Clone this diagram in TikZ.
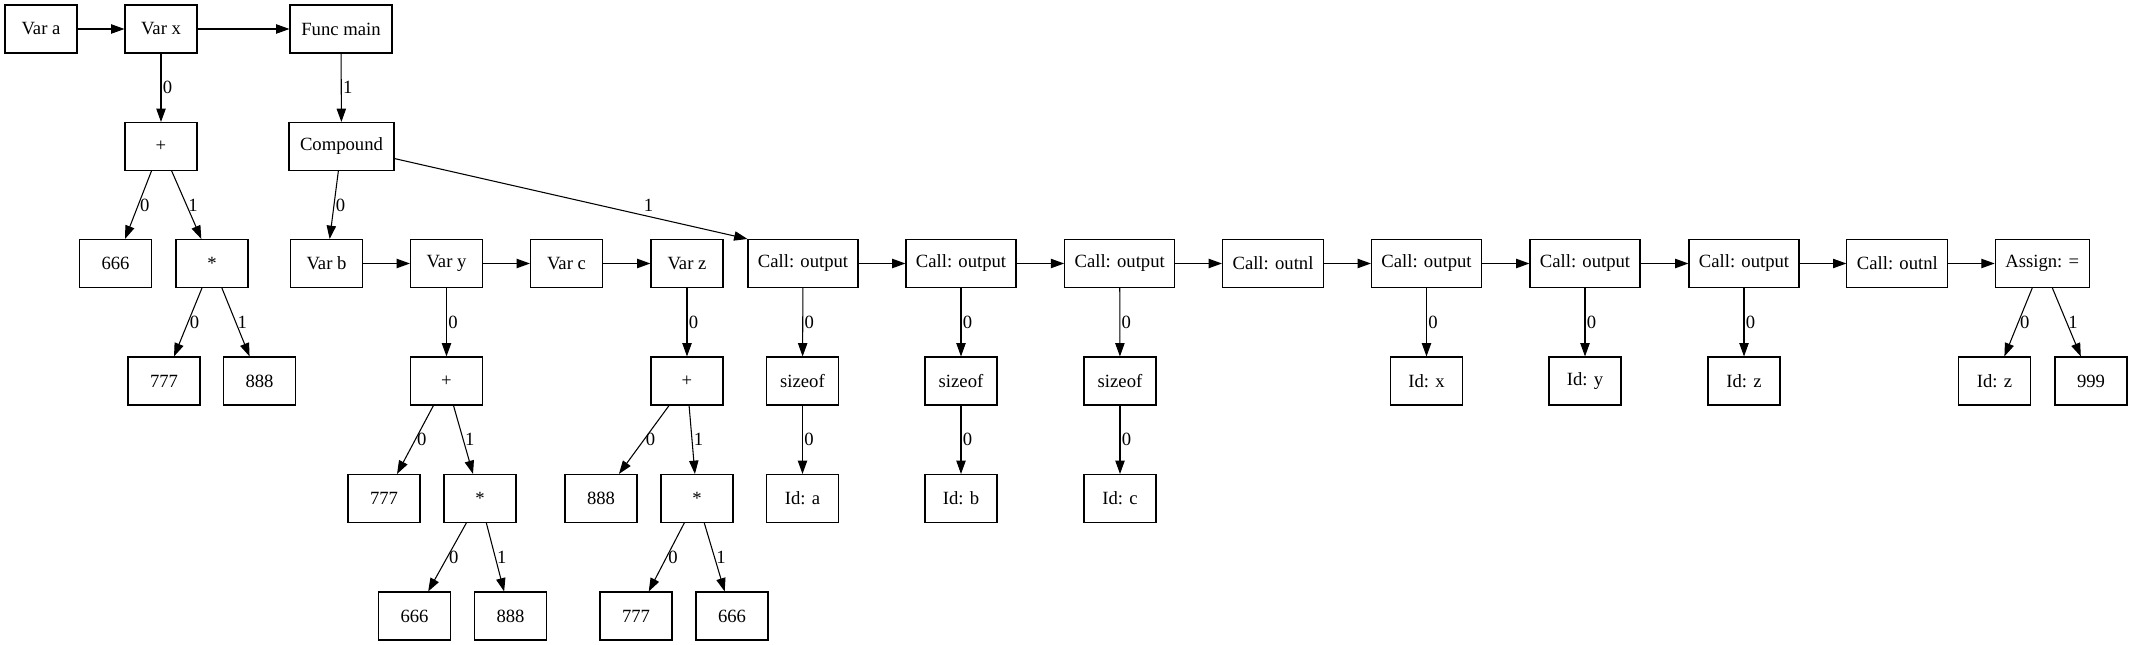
\documentclass[tikz,border=0pt]{standalone}
\usepackage{fontspec}
\setmainfont{Liberation Serif}
\usetikzlibrary{arrows.meta}

\begin{document}
\begin{tikzpicture}[x=0.75pt, y=-0.75pt, font=\fontsize{14}{16}\selectfont,
    box/.style={draw, line width=0.8pt, minimum width=54pt, minimum height=36pt, inner sep=0pt},
    wbox/.style={box, minimum width=#1},
    edge/.style={line width=0.8pt, -{Triangle[length=10pt, width=7pt]}},
    lbl/.style={right, inner sep=1pt}]
  \useasboundingbox (0,0) rectangle (2132,645);
  % row 1
  \node[box] (va) at (41,29) {Var a};
  \node[box] (vx) at (161,29) {Var x};
  \node[wbox=76.5pt] (fmain) at (341,29) {Func main};
  % row 2
  \node[box] (plusx) at (161,146.5) {+};
  \node[wbox=78.75pt] (cmp) at (341.5,146.5) {Compound};
  % row 3
  \node[box] (n666a) at (115.5,263.5) {666};
  \node[box] (mulx) at (212,263.5) {*};
  \node[box] (vb) at (326.5,263.5) {Var b};
  \node[box] (vy) at (446.5,263.5) {Var y};
  \node[box] (vc) at (566.5,263.5) {Var c};
  \node[box] (vz) at (687,263.5) {Var z};
  \node[wbox=82.5pt] (co1) at (803,263.5) {Call: output};
  \node[wbox=82.5pt] (co2) at (961,263.5) {Call: output};
  \node[wbox=82.5pt] (co3) at (1119.7,263.5) {Call: output};
  \node[wbox=75.75pt] (onl1) at (1273,263.5) {Call: outnl};
  \node[wbox=82.5pt] (co4) at (1426.5,263.5) {Call: output};
  \node[wbox=82.5pt] (co5) at (1585,263.5) {Call: output};
  \node[wbox=82.5pt] (co6) at (1744,263.5) {Call: output};
  \node[wbox=75.75pt] (onl2) at (1897.4,263.5) {Call: outnl};
  \node[wbox=70.5pt] (asg) at (2042.2,263.5) {Assign: =};
  % row 4
  \node[box] (n777a) at (164,381) {777};
  \node[box] (n888a) at (259.5,381) {888};
  \node[box] (plusy) at (446.5,381) {+};
  \node[box] (plusz) at (687,381) {+};
  \node[box] (sz1) at (802.5,381) {sizeof};
  \node[box] (sz2) at (961,381) {sizeof};
  \node[box] (sz3) at (1120,381) {sizeof};
  \node[box] (idx) at (1426.5,381) {Id: x};
  \node[box] (idy) at (1585,381) {Id: y};
  \node[box] (idz) at (1744,381) {Id: z};
  \node[box] (idz2) at (1994.4,381) {Id: z};
  \node[box] (n999) at (2091,381) {999};
  % row 5
  \node[box] (n777b) at (384,498.5) {777};
  \node[box] (muly) at (480,498.5) {*};
  \node[box] (n888b) at (601,498.5) {888};
  \node[box] (mulz) at (697,498.5) {*};
  \node[box] (ida) at (802.5,498.5) {Id: a};
  \node[box] (idb) at (961,498.5) {Id: b};
  \node[box] (idc) at (1120,498.5) {Id: c};
  % row 6
  \node[box] (n666b) at (414.5,616) {666};
  \node[box] (n888c) at (510.5,616) {888};
  \node[box] (n777c) at (636,616) {777};
  \node[box] (n666c) at (732,616) {666};

  % sibling chains
  \draw[edge] (va) -- (vx);
  \draw[edge] (vx) -- (fmain);
  \draw[edge] (vb) -- (vy);
  \draw[edge] (vy) -- (vc);
  \draw[edge] (vc) -- (vz);
  \draw[edge] (co1) -- (co2);
  \draw[edge] (co2) -- (co3);
  \draw[edge] (co3) -- (onl1);
  \draw[edge] (onl1) -- (co4);
  \draw[edge] (co4) -- (co5);
  \draw[edge] (co5) -- (co6);
  \draw[edge] (co6) -- (onl2);
  \draw[edge] (onl2) -- (asg);

  % children
  \draw[edge] (vx) -- node[lbl] {0} (plusx);
  \draw[edge] (plusx) -- node[lbl] {0} (n666a);
  \draw[edge] (plusx) -- node[lbl] {1} (mulx);
  \draw[edge] (mulx) -- node[lbl] {0} (n777a);
  \draw[edge] (mulx) -- node[lbl] {1} (n888a);
  \draw[edge] (fmain) -- node[lbl] {1} (cmp);
  \draw[edge] (cmp) -- node[lbl] {0} (vb);
  \draw[edge] (cmp) -- node[above, pos=0.72, inner sep=3pt] {1} (co1.north west);
  \draw[edge] (vy) -- node[lbl] {0} (plusy);
  \draw[edge] (plusy) -- node[lbl] {0} (n777b);
  \draw[edge] (plusy) -- node[lbl] {1} (muly);
  \draw[edge] (muly) -- node[lbl] {0} (n666b);
  \draw[edge] (muly) -- node[lbl] {1} (n888c);
  \draw[edge] (vz) -- node[lbl] {0} (plusz);
  \draw[edge] (plusz) -- node[lbl] {0} (n888b);
  \draw[edge] (plusz) -- node[lbl] {1} (mulz);
  \draw[edge] (mulz) -- node[lbl] {0} (n777c);
  \draw[edge] (mulz) -- node[lbl] {1} (n666c);
  \draw[edge] (co1) -- node[lbl] {0} (sz1);
  \draw[edge] (sz1) -- node[lbl] {0} (ida);
  \draw[edge] (co2) -- node[lbl] {0} (sz2);
  \draw[edge] (sz2) -- node[lbl] {0} (idb);
  \draw[edge] (co3) -- node[lbl] {0} (sz3);
  \draw[edge] (sz3) -- node[lbl] {0} (idc);
  \draw[edge] (co4) -- node[lbl] {0} (idx);
  \draw[edge] (co5) -- node[lbl] {0} (idy);
  \draw[edge] (co6) -- node[lbl] {0} (idz);
  \draw[edge] (asg) -- node[lbl] {0} (idz2);
  \draw[edge] (asg) -- node[lbl] {1} (n999);
\end{tikzpicture}
\end{document}
